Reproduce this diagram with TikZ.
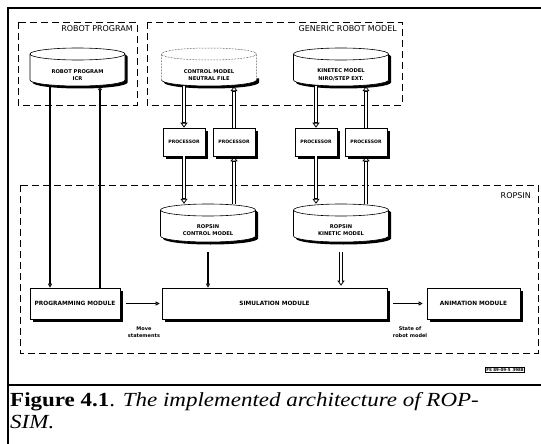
\documentclass[tikz,border=0pt]{standalone}
\usepackage{fontspec}
\setmainfont{Liberation Serif}
\setsansfont{DejaVu Sans}
\newfontfamily\capfont[FakeStretch=1.15]{Liberation Serif}
\usetikzlibrary{arrows.meta,calc}
\tikzset{
  frame/.style={line width=1.8pt},
  grp/.style={draw, dash pattern=on 7pt off 4pt, line width=0.9pt},
  grplbl/.style={anchor=north east, inner sep=0pt, font=\sffamily\fontsize{8}{9}\selectfont},
  modbox/.style={draw, fill=white, line width=0.6pt, inner sep=0pt,
    preaction={fill=black, transform canvas={shift={(2.8pt,-2.8pt)}}},
    font=\sffamily\bfseries\fontsize{5.8}{6}\selectfont},
  procbox/.style={modbox, minimum width=42pt, minimum height=28pt,
    font=\sffamily\bfseries\fontsize{4.6}{5}\selectfont},
  cylnode/.style={minimum width=95pt, minimum height=38pt, inner sep=0pt},
  cyltext/.style={inner sep=0pt, align=center,
    font=\sffamily\bfseries\fontsize{5.2}{7.5}\selectfont},
  thk/.style={line width=1.6pt, -{Triangle[open, length=4pt, width=4pt, line width=0.8pt]}},
  dbl/.style={line width=3.6pt, -{Triangle[open, length=5pt, width=7pt, line width=0.8pt]},
    postaction={draw=white, line width=1.6pt, -, shorten >=5.5pt}},
  small/.style={align=center, inner sep=0pt, font=\sffamily\bfseries\fontsize{5}{6.5}\selectfont},
  cyl/.pic={
    \fill[black] ($(-47.5,-13)+(2.5,2.5)$) -- ($(-47.5,13)+(2.5,2.5)$)
       arc[start angle=180, end angle=0, x radius=47.5, y radius=6]
       -- ($(47.5,-13)+(2.5,2.5)$) arc[start angle=0, end angle=-180, x radius=47.5, y radius=6] -- cycle;
    \draw[fill=white, line width=0.6pt] (-47.5,-13) -- (-47.5,13)
       arc[start angle=180, end angle=0, x radius=47.5, y radius=6]
       -- (47.5,-13) arc[start angle=0, end angle=-180, x radius=47.5, y radius=6] -- cycle;
    \draw[line width=0.6pt] (-47.5,-13) arc[start angle=180, end angle=0, x radius=47.5, y radius=6];
  },
  cyldot/.pic={
    \fill[black] ($(-47.5,9)+(2.5,2.5)$) -- ($(-47.5,13)+(2.5,2.5)$)
       arc[start angle=180, end angle=0, x radius=47.5, y radius=6]
       -- ($(47.5,9)+(2.5,2.5)$) -- cycle;
    \fill[white] (-47.5,-13) -- (-47.5,13)
       arc[start angle=180, end angle=0, x radius=47.5, y radius=6]
       -- (47.5,-13) arc[start angle=0, end angle=-180, x radius=47.5, y radius=6] -- cycle;
    \draw[densely dotted, line width=0.5pt] (-47.5,-13) -- (-47.5,13)
       (47.5,13) -- (47.5,-13) arc[start angle=0, end angle=-180, x radius=47.5, y radius=6];
    \draw[densely dotted, line width=0.5pt] (-47.5,-13) arc[start angle=180, end angle=0, x radius=47.5, y radius=6];
    \draw[line width=0.6pt] (-47.5,13) arc[start angle=180, end angle=0, x radius=47.5, y radius=6];
  }
}
\begin{document}
\begin{tikzpicture}[x=1pt, y=-1pt]
\useasboundingbox (0,0) rectangle (541,444);
% outer frame
\coordinate (tl) at (8,8);
\coordinate (tr) at (541,8);
\coordinate (bl) at (8,444);
\coordinate (sl) at (8,385);
\coordinate (sr) at (541,385);
\draw[frame] (tr) -- (tl) -- (bl);
\draw[frame] (sl) -- (sr);

% group boxes
\draw[grp] (18,22) rectangle (137,105);
\node[grplbl] (lrp) at (133,25) {ROBOT PROGRAM};
\draw[grp] (147,22) rectangle (402,105);
\node[grplbl] (lgrm) at (397,25) {GENERIC ROBOT MODEL};
\draw[grp] (20,185) rectangle (538,353);
\node[grplbl] (lrop) at (531,192) {ROPSIN};

% cylinders
\pic at (77.5,67) {cyl};
\node[cylnode] (icr) at (77.5,67) {};
\node[cyltext] (icrt) at ($(icr)+(0,8)$) {ROBOT PROGRAM\\ICR};
\pic at (209,67) {cyldot};
\node[cylnode] (cnf) at (209,67) {};
\node[cyltext] (cnft) at ($(cnf)+(0,8)$) {CONTROL MODEL\\NEUTRAL FILE};
\pic at (341,67) {cyl};
\node[cylnode] (knm) at (341,67) {};
\node[cyltext] (knmt) at ($(knm)+(0,8)$) {KINETEC MODEL\\NIRO/STEP EXT.};
\pic at (208,223) {cyl};
\node[cylnode] (rcm) at (208,223) {};
\node[cyltext] (rcmt) at ($(rcm)+(0,7)$) {ROPSIN\\CONTROL MODEL};
\pic at (341,223) {cyl};
\node[cylnode] (rkm) at (341,223) {};
\node[cyltext] (rkmt) at ($(rkm)+(0,7)$) {ROPSIN\\KINETIC MODEL};

% processors
\node[procbox] (p1) at (184,142) {PROCESSOR};
\node[procbox] (p2) at (234,142) {PROCESSOR};
\node[procbox] (p3) at (316,142) {PROCESSOR};
\node[procbox] (p4) at (366,142) {PROCESSOR};

% modules
\node[modbox, minimum width=90pt, minimum height=31pt] (pm) at (75,303.5) {PROGRAMMING MODULE};
\node[modbox, minimum width=225pt, minimum height=31pt] (sim) at (274.5,303.5) {SIMULATION MODULE};
\node[modbox, minimum width=93pt, minimum height=31pt] (am) at (473.5,303.5) {ANIMATION MODULE};

% robot program arrows
\coordinate (xa) at (50,0);
\coordinate (xb) at (100,0);
\draw[thk] (icr.south -| xa) -- (pm.north -| xa);
\draw[thk] (pm.north -| xb) -- (icr.south -| xb);

% generic model <-> processors
\draw[dbl] (cnf.south -| p1) -- (p1.north);
\draw[dbl] (p2.north) -- (cnf.south -| p2);
\draw[dbl] (knm.south -| p3) -- (p3.north);
\draw[dbl] (p4.north) -- (knm.south -| p4);
% processors <-> ROPSIN models
\draw[dbl] (p1.south) -- (rcm.north -| p1);
\draw[dbl] (rcm.north -| p2) -- (p2.south);
\draw[dbl] (p3.south) -- (rkm.north -| p3);
\draw[dbl] (rkm.north -| p4) -- (p4.south);

% models -> simulation
\draw[thk, shorten <=10pt] (rcm.south) -- (sim.north -| rcm);
\draw[dbl, shorten <=10pt, shorten >=2pt] (rkm.south) -- (sim.north -| rkm);

% module flow
\draw[thk, shorten <=6pt, shorten >=2pt] (pm.east) -- (sim.west);
\draw[thk, shorten <=6pt, shorten >=4pt] (sim.east) -- (am.west);
\node[small] (mv) at (144,332) {Move\\statements};
\node[small] (st) at (410,332) {State of\\robot model};

% reference stamp
\node[draw, line width=0.8pt, inner sep=0.8pt, font=\sffamily\bfseries\fontsize{4}{4}\selectfont] (stamp) at (505,370) {FS 89-09-5\enspace 3988};

% caption
\node[anchor=base west, inner sep=0pt, font=\capfont\fontsize{20}{18}\selectfont] (cap1) at (10,406)
  {\textbf{Figure 4.1}. \textit{The implemented architecture of ROP-}};
\node[anchor=base west, inner sep=0pt, font=\capfont\fontsize{20}{18}\selectfont] (cap2) at (10,428)
  {\textit{SIM.}};
\end{tikzpicture}
\end{document}
